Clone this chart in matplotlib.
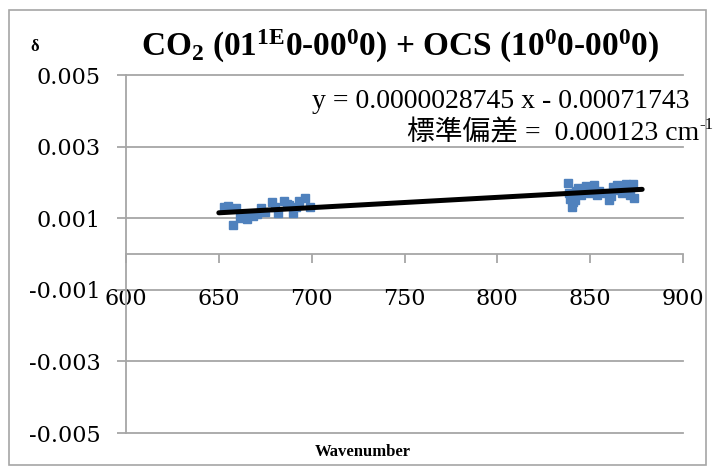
import matplotlib
matplotlib.use("Agg")
import matplotlib.pyplot as plt
from matplotlib.patches import Rectangle
import numpy as np

# ---- data ----
x_low = [653, 655, 657.6, 659, 661.2, 663, 665.3, 667, 668.4, 670.5, 672.6, 675,
         678.7, 680, 681.8, 684.9, 686.5, 688, 690, 691.5, 693.2, 696.2, 698.9]
y_low = [1.30, 1.34, 0.80, 1.28, 1.00, 1.05, 0.97, 1.08, 1.06, 1.12, 1.28, 1.18,
         1.46, 1.30, 1.15, 1.47, 1.40, 1.37, 1.14, 1.30, 1.49, 1.56, 1.30]
x_high = [838, 838.5, 839.2, 840, 840.8, 841.6, 842.5, 843.7, 845.3, 846.5, 847.8, 849,
          849.8, 851.9, 853.5, 855, 858.5, 860.1, 861, 862.2, 864.6, 866, 867.3, 869.4,
          870.5, 871.4, 872.9, 873.5]
y_high = [1.97, 1.70, 1.55, 1.32, 1.45, 1.51, 1.75, 1.83, 1.65, 1.78, 1.90, 1.80,
          1.70, 1.93, 1.65, 1.75, 1.70, 1.51, 1.62, 1.88, 1.93, 1.80, 1.70, 1.96,
          1.85, 1.65, 1.96, 1.56]
slope = 0.0000028745
intercept = -0.00071743
trend_range = [650, 878]
x_ticks = [600, 650, 700, 750, 800, 850, 900]
y_ticks = [-0.005, -0.003, -0.001, 0.001, 0.003, 0.005]
y_tick_labels = ["-0.005", "-0.003", "-0.001", "0.001", "0.003", "0.005"]
title_text = "CO$_2$ (01$^{\\mathrm{1E}}$0-00$^0$0) + OCS (10$^0$0-00$^0$0)"
eq_text = "y = 0.0000028745 x - 0.00071743"
sd_text = "標準偏差 =  0.000123 cm"
sd_sup = "-1"
x_label = "Wavenumber"
y_label = "δ"

plt.rcParams['mathtext.fontset'] = 'custom'
plt.rcParams['mathtext.rm'] = 'Liberation Serif:bold'
plt.rcParams['mathtext.it'] = 'Liberation Serif:italic:bold'
plt.rcParams['mathtext.bf'] = 'Liberation Serif:bold'

W, H = 715, 472
fig = plt.figure(figsize=(W / 100, H / 100), dpi=100)
ax = fig.add_axes([126 / W, 1 - 433 / H, (683 - 126) / W, (433 - 75) / H])

grid_col = "#a6a6a6"
x_all = np.array(x_low + x_high)
y_all = np.array(y_low + y_high) * 1e-3
ax.plot(x_all, y_all, linestyle="none", marker="s", markersize=5.5,
        color="#4F81BD", markeredgecolor="#4F81BD", zorder=3)
xt = np.array(trend_range, dtype=float)
ax.plot(xt, slope * xt + intercept, color="black", linewidth=3.6,
        solid_capstyle="round", zorder=4)

ax.set_xlim(600, 900)
ax.set_ylim(-0.005, 0.005)
ax.set_xticks(x_ticks)
ax.set_xticklabels([str(v) for v in x_ticks])
ax.set_yticks(y_ticks)
ax.set_yticklabels(y_tick_labels)
for y in y_ticks:
    ax.axhline(y, color=grid_col, linewidth=1.3, zorder=1, clip_on=False)

for s in ["top", "right"]:
    ax.spines[s].set_visible(False)
ax.spines["bottom"].set_position(("data", 0))
for s in ["left", "bottom"]:
    ax.spines[s].set_color(grid_col)
    ax.spines[s].set_linewidth(1.3)
ax.tick_params(axis="both", direction="out", color=grid_col, width=1.3, length=6.5)
ax.tick_params(axis="x", pad=18, labelsize=16)
ax.tick_params(axis="y", pad=12, labelsize=16)
for lab in ax.get_xticklabels() + ax.get_yticklabels():
    lab.set_fontfamily("DejaVu Serif")

fig.text(400 / W, 1 - 46 / H, title_text, ha="center", va="center",
         fontsize=24, fontweight="bold", family="Liberation Serif")
fig.text(35 / W, 1 - 47 / H, y_label, ha="center", va="center",
         fontsize=12, fontweight="bold", family="Liberation Serif")
fig.text(363 / W, 1 - 452 / H, x_label, ha="center", va="center",
         fontsize=12, fontweight="bold", family="Liberation Serif")
fig.text(690 / W, 1 - 102 / H, eq_text, ha="right", va="center",
         fontsize=20, family="Liberation Serif")
fig.text(699 / W, 1 - 133 / H, sd_text, ha="right", va="center",
         fontsize=20, family=["Liberation Serif", "Noto Sans CJK JP"])
fig.text(699 / W, 1 - 125 / H, sd_sup, ha="left", va="center",
         fontsize=12, family="Liberation Serif")

fig.patches.append(Rectangle((9 / W, 1 - 465 / H), (706 - 9) / W, (465 - 10) / H,
                             transform=fig.transFigure, fill=False,
                             edgecolor=grid_col, linewidth=1.2))

fig.savefig("out.png", dpi=100)
